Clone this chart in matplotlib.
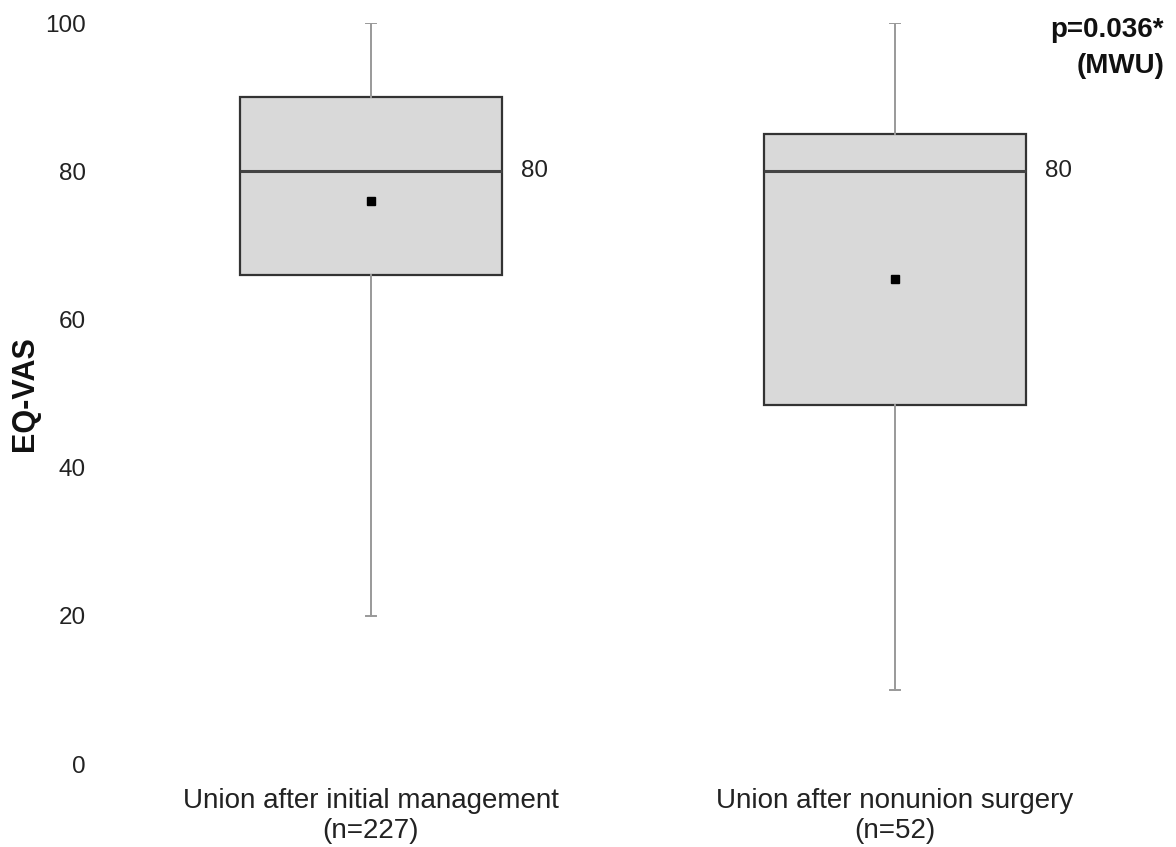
import matplotlib
matplotlib.use("Agg")
import matplotlib.pyplot as plt

plt.rcParams['font.family'] = ['Liberation Sans', 'DejaVu Sans']

categories = ["Union after initial management\n(n=227)", "Union after nonunion surgery\n(n=52)"]
whisker_low = [20, 10]
q1 = [66, 48.4]
median = [80, 80]
q3 = [90, 85]
whisker_high = [100, 100]
mean = [76, 65.5]
yticks = [0, 20, 40, 60, 80, 100]

W, H = 1176, 847
y0_px, y100_px = 764, 23
left_px = 94
fig = plt.figure(figsize=(W/100, H/100), dpi=100)
ax = fig.add_axes([left_px/W, 1-y0_px/H, 1-left_px/W, (y0_px-y100_px)/H])

stats = []
for i in range(len(categories)):
    stats.append(dict(whislo=whisker_low[i], q1=q1[i], med=median[i], q3=q3[i],
                      whishi=whisker_high[i], mean=mean[i], fliers=[]))

positions = [1, 2]
ax.bxp(stats, positions=positions, widths=0.5, patch_artist=True,
       showmeans=True, showfliers=False, capwidths=0.02,
       boxprops=dict(facecolor='#d9d9d9', edgecolor='#333333', linewidth=1.6),
       medianprops=dict(color='#444444', linewidth=2.2),
       whiskerprops=dict(color='#999999', linewidth=1.4),
       capprops=dict(color='#999999', linewidth=1.4),
       meanprops=dict(marker='s', markerfacecolor='black', markeredgecolor='black', markersize=6))

for i, p in enumerate(positions):
    ax.text(p + 0.25 + 0.036, median[i], f"{median[i]:g}", ha='left', va='center',
            fontsize=17.5, color='#222222')

ax.set_xlim(1 - 277/524, 2 + 281/524)
ax.set_ylim(0, 100)
ax.set_yticks(yticks)
ax.set_yticklabels([str(t) for t in yticks], fontsize=17.5, color='#222222')
ax.set_xticks(positions)
ax.set_xticklabels(categories, fontsize=20, color='#222222', linespacing=1.2)
ax.tick_params(axis='both', length=0)
ax.tick_params(axis='y', pad=6)
ax.tick_params(axis='x', pad=17)
for s in ax.spines.values():
    s.set_visible(False)

ax.set_ylabel("EQ-VAS", fontsize=22, fontweight='bold', color='#111111', ha='center', va='center')
ax.yaxis.set_label_coords((25-left_px)/(W-left_px), (y0_px-394)/(y0_px-y100_px))

fig.text(1164/W, 1-37/H, "p=0.036*", ha='right', va='baseline', fontsize=20,
         fontweight='bold', color='#111111')
fig.text(1164/W, 1-73/H, "(MWU)", ha='right', va='baseline', fontsize=20,
         fontweight='bold', color='#111111')

fig.savefig("out.png", dpi=100)
